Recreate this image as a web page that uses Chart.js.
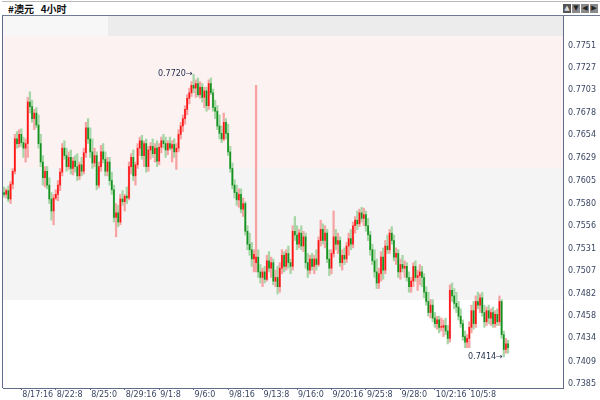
<!DOCTYPE html>
<html>
<head>
<meta charset="utf-8">
<script src="https://cdn.jsdelivr.net/npm/chart.js@4.4.0/dist/chart.umd.min.js"></script>
<style>
html, body { margin: 0; padding: 0; background: #fff; }
#wrap { position: relative; width: 600px; height: 400px; overflow: hidden; }
#chart { position: absolute; left: 0; top: 0; }
#head {
    position: absolute; left: 2px; top: 1px; width: 598px; height: 13px;
    background: #fff; border-top: 1px solid #b8b8b8; border-bottom: 1px solid #6f7b95;
    font: bold 10px "Noto Sans CJK SC", sans-serif; line-height: 13px; color: #111; z-index: 2;
}
#head .title { position: absolute; left: 6px; top: 0; }
#head .btns { position: absolute; right: 2px; top: 2px; }
#head .btns span {
    display: inline-block; width: 8px; height: 9px; margin-left: 1px;
    background: #8a8a8a; color: #222; font: 7px "DejaVu Sans", sans-serif;
    line-height: 9px; text-align: center; vertical-align: top;
}
#head .btns span.on { background: #555; color: #ddd; }
</style>
</head>
<body>
<div id="wrap">
    <div id="head">
        <span class="title">#澳元&nbsp;&nbsp;&nbsp;4小时</span>
        <span class="btns"><span class="on">▲</span><span>▼</span><span>◀</span><span>▶</span></span>
    </div>
    <canvas id="chart" width="600" height="400"></canvas>
</div>
<script>
// 4h candles, AUD, first bar = 8/16 8:00
const opens = [
    0.7592, 0.7590, 0.7594, 0.7585, 0.7601, 0.7615, 0.7650, 0.7645, 0.7655, 0.7646,
    0.7640, 0.7645, 0.7690, 0.7685, 0.7672, 0.7678, 0.7665, 0.7645, 0.7625, 0.7608,
    0.7615, 0.7600, 0.7585, 0.7572, 0.7586, 0.7590, 0.7600, 0.7614, 0.7640, 0.7632,
    0.7620, 0.7630, 0.7618, 0.7626, 0.7620, 0.7610, 0.7622, 0.7615, 0.7635, 0.7662,
    0.7650, 0.7636, 0.7624, 0.7632, 0.7600, 0.7620, 0.7636, 0.7628, 0.7615, 0.7625,
    0.7605, 0.7595, 0.7565, 0.7570, 0.7560, 0.7585, 0.7582, 0.7588, 0.7586, 0.7620,
    0.7630, 0.7610, 0.7622, 0.7640, 0.7648, 0.7632, 0.7645, 0.7620, 0.7638, 0.7642,
    0.7634, 0.7640, 0.7626, 0.7641, 0.7648, 0.7645, 0.7638, 0.7645, 0.7640, 0.7644,
    0.7636, 0.7640, 0.7655, 0.7664, 0.7672, 0.7682, 0.7694, 0.7700, 0.7708, 0.7705,
    0.7710, 0.7698, 0.7706, 0.7695, 0.7702, 0.7686, 0.7710, 0.7700, 0.7684, 0.7680,
    0.7664, 0.7656, 0.7650, 0.7668, 0.7656, 0.7636, 0.7618, 0.7600, 0.7592, 0.7584,
    0.7590, 0.7574, 0.7580, 0.7550, 0.7536, 0.7530, 0.7520, 0.7516, 0.7522, 0.7506,
    0.7500, 0.7506, 0.7498, 0.7518, 0.7510, 0.7516, 0.7496, 0.7500, 0.7490, 0.7510,
    0.7524, 0.7512, 0.7526, 0.7516, 0.7512, 0.7550, 0.7546, 0.7536, 0.7548, 0.7534,
    0.7544, 0.7516, 0.7508, 0.7520, 0.7512, 0.7520, 0.7514, 0.7540, 0.7552, 0.7540,
    0.7548, 0.7520, 0.7510, 0.7526, 0.7544, 0.7536, 0.7540, 0.7516, 0.7524, 0.7520,
    0.7534, 0.7542, 0.7536, 0.7556, 0.7562, 0.7558, 0.7570, 0.7564, 0.7568, 0.7556,
    0.7546, 0.7530, 0.7518, 0.7506, 0.7494, 0.7504, 0.7522, 0.7508, 0.7534, 0.7530,
    0.7548, 0.7540, 0.7522, 0.7526, 0.7506, 0.7514, 0.7510, 0.7512, 0.7500, 0.7490,
    0.7496, 0.7512, 0.7500, 0.7502, 0.7506, 0.7500, 0.7484, 0.7474, 0.7462, 0.7470,
    0.7456, 0.7450, 0.7454, 0.7446, 0.7446, 0.7448, 0.7442, 0.7434, 0.7486, 0.7480,
    0.7472, 0.7468, 0.7458, 0.7450, 0.7436, 0.7430, 0.7434, 0.7446, 0.7464, 0.7450,
    0.7474, 0.7470, 0.7478, 0.7462, 0.7452, 0.7464, 0.7456, 0.7462, 0.7450, 0.7460,
    0.7452, 0.7474, 0.7438, 0.7422, 0.7428
];
const highs = [
    0.7598, 0.7596, 0.7599, 0.7604, 0.7618, 0.7655, 0.7658, 0.7660, 0.7661, 0.7652,
    0.7650, 0.7695, 0.7701, 0.7692, 0.7682, 0.7684, 0.7676, 0.7655, 0.7632, 0.7620,
    0.7620, 0.7608, 0.7592, 0.7590, 0.7595, 0.7605, 0.7618, 0.7645, 0.7648, 0.7640,
    0.7636, 0.7638, 0.7630, 0.7632, 0.7634, 0.7625, 0.7630, 0.7640, 0.7668, 0.7672,
    0.7662, 0.7650, 0.7640, 0.7636, 0.7625, 0.7643, 0.7645, 0.7636, 0.7630, 0.7630,
    0.7614, 0.7600, 0.7580, 0.7578, 0.7590, 0.7594, 0.7590, 0.7598, 0.7625, 0.7634,
    0.7638, 0.7625, 0.7645, 0.7652, 0.7654, 0.7648, 0.7650, 0.7642, 0.7646, 0.7650,
    0.7645, 0.7648, 0.7645, 0.7652, 0.7655, 0.7652, 0.7648, 0.7652, 0.7648, 0.7650,
    0.7645, 0.7660, 0.7668, 0.7676, 0.7686, 0.7698, 0.7705, 0.7712, 0.7720, 0.7714,
    0.7716, 0.7712, 0.7710, 0.7706, 0.7706, 0.7714, 0.7716, 0.7704, 0.7692, 0.7686,
    0.7676, 0.7664, 0.7678, 0.7672, 0.7666, 0.7642, 0.7624, 0.7606, 0.7600, 0.7596,
    0.7596, 0.7586, 0.7582, 0.7556, 0.7548, 0.7538, 0.7530, 0.7708, 0.7530, 0.7514,
    0.7510, 0.7512, 0.7524, 0.7528, 0.7522, 0.7520, 0.7508, 0.7512, 0.7516, 0.7530,
    0.7528, 0.7530, 0.7534, 0.7520, 0.7556, 0.7566, 0.7556, 0.7552, 0.7556, 0.7550,
    0.7548, 0.7526, 0.7524, 0.7526, 0.7524, 0.7530, 0.7544, 0.7562, 0.7558, 0.7556,
    0.7552, 0.7530, 0.7530, 0.7572, 0.7552, 0.7548, 0.7544, 0.7530, 0.7532, 0.7538,
    0.7548, 0.7552, 0.7560, 0.7566, 0.7572, 0.7574, 0.7576, 0.7575, 0.7572, 0.7564,
    0.7550, 0.7536, 0.7530, 0.7520, 0.7510, 0.7528, 0.7532, 0.7540, 0.7546, 0.7552,
    0.7555, 0.7546, 0.7532, 0.7530, 0.7520, 0.7524, 0.7518, 0.7516, 0.7506, 0.7500,
    0.7516, 0.7518, 0.7508, 0.7514, 0.7512, 0.7504, 0.7490, 0.7484, 0.7476, 0.7476,
    0.7462, 0.7458, 0.7458, 0.7456, 0.7454, 0.7456, 0.7448, 0.7492, 0.7494, 0.7488,
    0.7484, 0.7474, 0.7466, 0.7454, 0.7442, 0.7438, 0.7452, 0.7470, 0.7474, 0.7480,
    0.7484, 0.7482, 0.7484, 0.7470, 0.7468, 0.7470, 0.7466, 0.7468, 0.7464, 0.7466,
    0.7480, 0.7476, 0.7442, 0.7434, 0.7432
];
const lows = [
    0.7587, 0.7586, 0.7582, 0.7580, 0.7596, 0.7612, 0.7640, 0.7641, 0.7642, 0.7630,
    0.7625, 0.7630, 0.7678, 0.7668, 0.7660, 0.7662, 0.7640, 0.7620, 0.7600, 0.7598,
    0.7596, 0.7580, 0.7562, 0.7557, 0.7584, 0.7583, 0.7594, 0.7610, 0.7628, 0.7615,
    0.7617, 0.7612, 0.7611, 0.7614, 0.7605, 0.7606, 0.7610, 0.7612, 0.7630, 0.7645,
    0.7630, 0.7618, 0.7620, 0.7595, 0.7597, 0.7615, 0.7624, 0.7610, 0.7610, 0.7600,
    0.7590, 0.7560, 0.7544, 0.7555, 0.7557, 0.7578, 0.7572, 0.7580, 0.7584, 0.7612,
    0.7605, 0.7600, 0.7618, 0.7632, 0.7628, 0.7620, 0.7614, 0.7615, 0.7628, 0.7630,
    0.7625, 0.7620, 0.7622, 0.7635, 0.7640, 0.7630, 0.7633, 0.7638, 0.7625, 0.7630,
    0.7617, 0.7636, 0.7650, 0.7658, 0.7666, 0.7676, 0.7688, 0.7696, 0.7700, 0.7695,
    0.7696, 0.7694, 0.7690, 0.7684, 0.7680, 0.7682, 0.7698, 0.7680, 0.7672, 0.7660,
    0.7650, 0.7646, 0.7648, 0.7650, 0.7632, 0.7614, 0.7596, 0.7586, 0.7578, 0.7576,
    0.7570, 0.7566, 0.7546, 0.7530, 0.7524, 0.7512, 0.7506, 0.7506, 0.7500, 0.7494,
    0.7490, 0.7494, 0.7496, 0.7506, 0.7500, 0.7492, 0.7490, 0.7482, 0.7484, 0.7504,
    0.7506, 0.7508, 0.7510, 0.7504, 0.7508, 0.7540, 0.7530, 0.7532, 0.7530, 0.7528,
    0.7510, 0.7500, 0.7504, 0.7508, 0.7504, 0.7508, 0.7512, 0.7534, 0.7536, 0.7532,
    0.7516, 0.7502, 0.7504, 0.7522, 0.7530, 0.7526, 0.7512, 0.7508, 0.7514, 0.7516,
    0.7524, 0.7530, 0.7532, 0.7548, 0.7552, 0.7555, 0.7560, 0.7556, 0.7550, 0.7540,
    0.7524, 0.7514, 0.7500, 0.7488, 0.7488, 0.7496, 0.7498, 0.7504, 0.7526, 0.7526,
    0.7536, 0.7518, 0.7514, 0.7500, 0.7498, 0.7506, 0.7500, 0.7496, 0.7484, 0.7484,
    0.7490, 0.7496, 0.7486, 0.7492, 0.7490, 0.7478, 0.7470, 0.7458, 0.7456, 0.7452,
    0.7446, 0.7444, 0.7440, 0.7442, 0.7436, 0.7438, 0.7428, 0.7430, 0.7474, 0.7466,
    0.7462, 0.7454, 0.7446, 0.7432, 0.7424, 0.7424, 0.7424, 0.7440, 0.7444, 0.7446,
    0.7466, 0.7462, 0.7458, 0.7446, 0.7448, 0.7450, 0.7448, 0.7446, 0.7446, 0.7448,
    0.7448, 0.7434, 0.7414, 0.7418, 0.7418
];
const closes = [
    0.7590, 0.7594, 0.7585, 0.7601, 0.7615, 0.7650, 0.7645, 0.7655, 0.7646, 0.7640,
    0.7645, 0.7690, 0.7685, 0.7672, 0.7678, 0.7665, 0.7645, 0.7625, 0.7608, 0.7615,
    0.7600, 0.7585, 0.7572, 0.7586, 0.7590, 0.7600, 0.7614, 0.7640, 0.7632, 0.7620,
    0.7630, 0.7618, 0.7626, 0.7620, 0.7610, 0.7622, 0.7615, 0.7635, 0.7662, 0.7650,
    0.7636, 0.7624, 0.7632, 0.7600, 0.7620, 0.7636, 0.7628, 0.7615, 0.7625, 0.7605,
    0.7595, 0.7565, 0.7570, 0.7560, 0.7585, 0.7582, 0.7588, 0.7586, 0.7620, 0.7630,
    0.7610, 0.7622, 0.7640, 0.7648, 0.7632, 0.7645, 0.7620, 0.7638, 0.7642, 0.7634,
    0.7640, 0.7626, 0.7641, 0.7648, 0.7645, 0.7638, 0.7645, 0.7640, 0.7644, 0.7636,
    0.7640, 0.7655, 0.7664, 0.7672, 0.7682, 0.7694, 0.7700, 0.7708, 0.7705, 0.7710,
    0.7698, 0.7706, 0.7695, 0.7702, 0.7686, 0.7710, 0.7700, 0.7684, 0.7680, 0.7664,
    0.7656, 0.7650, 0.7668, 0.7656, 0.7636, 0.7618, 0.7600, 0.7592, 0.7584, 0.7590,
    0.7574, 0.7580, 0.7550, 0.7536, 0.7530, 0.7520, 0.7525, 0.7522, 0.7506, 0.7500,
    0.7506, 0.7498, 0.7518, 0.7510, 0.7516, 0.7496, 0.7500, 0.7490, 0.7510, 0.7524,
    0.7512, 0.7526, 0.7516, 0.7512, 0.7550, 0.7546, 0.7536, 0.7548, 0.7534, 0.7544,
    0.7516, 0.7508, 0.7520, 0.7512, 0.7520, 0.7514, 0.7540, 0.7552, 0.7540, 0.7548,
    0.7520, 0.7510, 0.7526, 0.7544, 0.7536, 0.7540, 0.7516, 0.7524, 0.7520, 0.7534,
    0.7542, 0.7536, 0.7556, 0.7562, 0.7558, 0.7570, 0.7564, 0.7568, 0.7556, 0.7546,
    0.7530, 0.7518, 0.7506, 0.7494, 0.7504, 0.7522, 0.7508, 0.7534, 0.7530, 0.7548,
    0.7540, 0.7522, 0.7526, 0.7506, 0.7514, 0.7510, 0.7512, 0.7500, 0.7490, 0.7496,
    0.7512, 0.7500, 0.7502, 0.7506, 0.7500, 0.7484, 0.7474, 0.7462, 0.7470, 0.7456,
    0.7450, 0.7454, 0.7446, 0.7446, 0.7448, 0.7442, 0.7434, 0.7486, 0.7480, 0.7472,
    0.7468, 0.7458, 0.7450, 0.7436, 0.7430, 0.7434, 0.7446, 0.7464, 0.7450, 0.7474,
    0.7470, 0.7478, 0.7462, 0.7452, 0.7464, 0.7456, 0.7462, 0.7450, 0.7460, 0.7452,
    0.7474, 0.7438, 0.7422, 0.7428, 0.7424
];

// time axis labels, one every 16 bars starting at bar 8
const tickLabels = ['8/17:16', '8/22:8', '8/25:0', '8/29:16', '9/1:8', '9/6:0', '9/8:16',
    '9/13:8', '9/16:0', '9/20:16', '9/25:8', '9/28:0', '10/2:16', '10/5:8'];
const tickStart = 8;
const tickEvery = 16;
const priceTicks = [0.7751, 0.7727, 0.7703, 0.7678, 0.7654, 0.7629, 0.7605, 0.7580,
    0.7556, 0.7531, 0.7507, 0.7482, 0.7458, 0.7434, 0.7409, 0.7385];

const totalSlots = 260; // includes empty space right of the last bar
const axisColor = '#5f6b88';
const textColor = '#3a4662';
const tickFont = { family: 'DejaVu Sans', size: 8 };

const labels = [];
for (let i = 0; i < totalSlots; i++) {
    const k = i - tickStart;
    const j = k / tickEvery;
    labels.push(k >= 0 && k % tickEvery === 0 && j < tickLabels.length ? tickLabels[j] : '');
}

const isUp = opens.map((o, i) => closes[i] >= o);

// background zones and frame
const backdrop = {
    id: 'backdrop',
    beforeDatasetsDraw(chart) {
        const { ctx, chartArea: a, scales: { y } } = chart;
        const zones = [
            [y.max, 0.77615, '#ececec'],
            [0.77615, 0.76186, '#fcf2f2'],
            [0.76186, 0.74756, '#f4f4f4']
        ];
        ctx.save();
        zones.forEach(([top, bottom, color]) => {
            const y1 = y.getPixelForValue(top);
            const y2 = y.getPixelForValue(bottom);
            ctx.fillStyle = color;
            ctx.fillRect(a.left, y1, a.right - a.left, y2 - y1);
        });
        ctx.fillStyle = '#f7f7f7';
        ctx.fillRect(a.left, a.top, 105, y.getPixelForValue(0.77615) - a.top);
        ctx.restore();
    },
    afterDraw(chart) {
        const { ctx, chartArea: a } = chart;
        ctx.save();
        ctx.strokeStyle = axisColor;
        ctx.lineWidth = 1;
        ctx.beginPath();
        ctx.moveTo(a.left - 0.5, a.top);
        ctx.lineTo(a.left - 0.5, a.bottom);
        ctx.stroke();
        ctx.restore();
    }
};

// high / low price markers
const markers = {
    id: 'markers',
    afterDatasetsDraw(chart) {
        const { ctx, scales: { x, y } } = chart;
        const hi = highs.indexOf(Math.max(...highs));
        const lo = lows.indexOf(Math.min(...lows));
        ctx.save();
        ctx.font = '8px "DejaVu Sans"';
        ctx.fillStyle = '#1e2a48';
        ctx.textAlign = 'right';
        ctx.textBaseline = 'middle';
        ctx.fillText(highs[hi].toFixed(4) + '→', x.getPixelForValue(hi) - 1, y.getPixelForValue(highs[hi]));
        ctx.fillText(lows[lo].toFixed(4) + '→', x.getPixelForValue(lo) - 1, y.getPixelForValue(lows[lo]));
        ctx.restore();
    }
};

new Chart(document.getElementById('chart'), {
    type: 'bar',
    data: {
        labels: labels,
        datasets: [{
            label: 'body',
            data: opens.map((o, i) => [o, closes[i]]),
            backgroundColor: isUp.map(u => u ? '#ff1414' : '#14901e'),
            barThickness: 1,
            minBarLength: 1,
            grouped: false,
            order: 0
        }, {
            label: 'range',
            data: lows.map((l, i) => [l, highs[i]]),
            backgroundColor: isUp.map(u => u ? '#f7a3a3' : '#a6d6a6'),
            barThickness: 1.6,
            grouped: false,
            order: 1
        }]
    },
    options: {
        responsive: false,
        animation: false,
        devicePixelRatio: 1,
        layout: { padding: { top: 15, left: 3, right: 0, bottom: 0 } },
        plugins: {
            legend: { display: false },
            tooltip: { enabled: false }
        },
        scales: {
            x: {
                type: 'category',
                offset: true,
                grid: {
                    display: true,
                    offset: false,
                    drawOnChartArea: false,
                    drawTicks: true,
                    tickLength: 2,
                    color: ctx => labels[ctx.index] ? axisColor : 'rgba(0,0,0,0)'
                },
                border: { display: true, color: axisColor },
                ticks: {
                    autoSkip: false,
                    maxRotation: 0,
                    minRotation: 0,
                    align: 'start',
                    labelOffset: 1,
                    padding: 0,
                    font: tickFont,
                    color: textColor,
                    callback: (v, i) => labels[i]
                },
                afterFit: s => { s.height = 12; }
            },
            y: {
                position: 'right',
                min: 0.73803,
                max: 0.77842,
                afterBuildTicks: s => { s.ticks = priceTicks.map(v => ({ value: v })); },
                grid: { display: false, drawTicks: false },
                border: { display: true, color: axisColor },
                ticks: {
                    padding: 5,
                    font: tickFont,
                    color: textColor,
                    callback: v => v.toFixed(4)
                },
                afterFit: s => { s.width = 37; }
            }
        }
    },
    plugins: [backdrop, markers]
});
</script>
</body>
</html>
